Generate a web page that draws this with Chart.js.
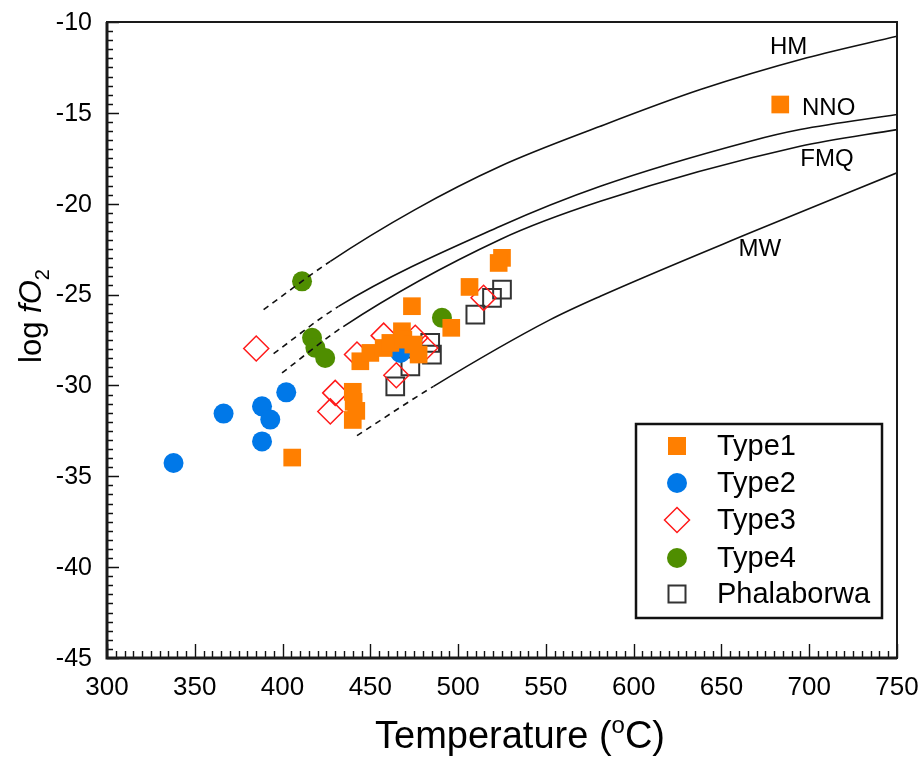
<!DOCTYPE html>
<html>
<head>
<meta charset="utf-8">
<script src="https://cdn.jsdelivr.net/npm/chart.js@4.4.0/dist/chart.umd.min.js"></script>
<style>
html, body { margin: 0; padding: 0; background: #fff; }
</style>
</head>
<body>
<canvas id="grafico" width="921" height="761"></canvas>
<script>
// sample groups: temperature (°C) and log fO2
const type1T   = [683.5, 405.5, 525.0, 523.1, 506.5, 473.7, 496.1, 440.0, 440.5, 442.0, 440.0, 444.3, 450.0, 457.6, 461.4, 468.0, 468.8, 474.5, 477.5];
const type1Log = [-14.54, -33.97, -22.98, -23.26, -24.58, -25.64, -26.83, -30.35, -30.9, -31.4, -31.9, -28.67, -28.21, -27.94, -27.66, -27.02, -27.48, -27.75, -28.30];

const type2T   = [337.9, 366.4, 388.3, 393.0, 388.3, 402.1, 467.1];
const type2Log = [-34.27, -31.55, -31.15, -31.88, -33.08, -30.38, -28.21];

const type3T   = [385.0, 430.0, 427.2, 442.4, 457.6, 475.6, 481.3, 464.8, 514.5];
const type3Log = [-27.97, -30.41, -31.43, -28.30, -27.26, -27.38, -27.94, -29.44, -25.18];

const type4T   = [411.1, 416.8, 418.7, 424.3, 490.8];
const type4Log = [-24.27, -27.38, -27.93, -28.49, -26.28];

const phalT    = [525.0, 519.3, 509.8, 484.1, 485.1, 472.8, 464.2];
const phalLog  = [-24.73, -25.18, -26.10, -27.66, -28.30, -28.95, -30.05];

// buffer curves (dashed below *DashTo)
const hmT    = [389.2, 427.2, 475.0, 524.0, 581.0, 638.0, 698.7, 750.0];
const hmLog  = [-25.83, -23.17, -20.35, -17.94, -15.74, -13.72, -11.97, -10.78];
const hmDashTo = 427.2;

const nnoT   = [394.9, 431.9, 524.0, 581.0, 666.4, 694.8, 750.0];
const nnoLog = [-28.25, -25.65, -21.24, -19.04, -16.56, -15.92, -15.09];
const nnoDashTo = 431.9;

const fmqT   = [399.7, 434.6, 524.0, 581.0, 694.8, 750.0];
const fmqLog = [-29.31, -26.76, -21.97, -19.87, -16.84, -15.92];
const fmqDashTo = 434.6;

const mwT    = [442.4, 486.0, 552.5, 581.0, 666.4, 750.0];
const mwLog  = [-32.76, -30.05, -26.38, -25.09, -21.60, -18.30];
const mwDashTo = 486.0;

const bufferNames = ['HM', 'NNO', 'FMQ', 'MW'];
const seriesNames = ['Type1', 'Type2', 'Type3', 'Type4', 'Phalaborwa'];

const xTicks = [300, 750, 50];   // min, max, step
const yTicks = [-45, -10, 5];

const pts = (xs, ys) => xs.map((v, i) => ({ x: v, y: ys[i] }));

const SANS = '"Liberation Sans", Arial, sans-serif';

function buffer(name, xs, ys, dashTo) {
    return {
        label: name,
        data: pts(xs, ys),
        showLine: true,
        pointRadius: 0,
        borderColor: '#111',
        borderWidth: 1.6,
        cubicInterpolationMode: 'monotone',
        segment: {
            borderDash: c => c.p1.parsed.x <= dashTo + 0.01 ? [6, 5] : undefined
        },
        order: 0
    };
}

const markers = [
    { pointStyle: 'rect',    radius: 12.5, fill: '#ff7f00', stroke: '#ff7f00', bw: 0 },
    { pointStyle: 'circle',  radius: 10,   fill: '#0078e8', stroke: '#0078e8', bw: 0 },
    { pointStyle: 'rectRot', radius: 12.5, fill: 'rgba(0,0,0,0)', stroke: '#ff1a1a', bw: 1.5 },
    { pointStyle: 'circle',  radius: 10,   fill: '#4f8e00', stroke: '#4f8e00', bw: 0 },
    { pointStyle: 'rect',    radius: 12.5, fill: 'rgba(0,0,0,0)', stroke: '#333', bw: 2 }
];
const seriesData = [
    pts(type1T, type1Log), pts(type2T, type2Log), pts(type3T, type3Log),
    pts(type4T, type4Log), pts(phalT, phalLog)
];

const scatterSets = seriesNames.map((n, i) => ({
    label: n,
    data: seriesData[i],
    pointStyle: markers[i].pointStyle,
    pointRadius: markers[i].radius,
    pointHoverRadius: markers[i].radius,
    backgroundColor: markers[i].fill,
    borderColor: markers[i].stroke,
    borderWidth: markers[i].bw,
    order: i + 1
}));

// text with mixed styles (italic, sub/superscript)
function richText(ctx, parts, x, y, align) {
    let w = 0;
    parts.forEach(p => { ctx.font = p.font; w += ctx.measureText(p.t).width; });
    let cx = align === 'center' ? x - w / 2 : x;
    ctx.textAlign = 'left';
    ctx.textBaseline = 'alphabetic';
    parts.forEach(p => {
        ctx.font = p.font;
        ctx.fillText(p.t, cx, y + (p.dy || 0));
        cx += ctx.measureText(p.t).width;
    });
}

const decor = {
    id: 'decor',
    afterDraw(chart) {
        const { ctx, chartArea: a, scales: { x, y } } = chart;
        ctx.save();

        // inward ticks
        ctx.strokeStyle = '#111';
        ctx.lineWidth = 1.4;
        ctx.beginPath();
        for (let i = 0; i <= 70; i++) {
            const py = Math.round(y.getPixelForValue(yTicks[0] + i * 0.5)) + 0.5;
            const len = i % 10 === 0 ? 12 : 6;
            ctx.moveTo(a.left, py); ctx.lineTo(a.left + len, py);
        }
        for (let i = 0; i <= 90; i++) {
            const px = Math.round(x.getPixelForValue(xTicks[0] + i * 5)) + 0.5;
            const len = i % 10 === 0 ? 14 : 7;
            ctx.moveTo(px, a.bottom); ctx.lineTo(px, a.bottom - len);
        }
        ctx.stroke();

        // frame
        ctx.lineWidth = 2;
        ctx.strokeStyle = '#1a1a1a';
        ctx.strokeRect(a.left, a.top, a.right - a.left, a.bottom - a.top);
        ctx.lineWidth = 3;
        ctx.beginPath();
        ctx.moveTo(a.left, a.top); ctx.lineTo(a.left, a.bottom); ctx.lineTo(a.right, a.bottom);
        ctx.stroke();

        // tick labels from the scales
        ctx.fillStyle = '#000';
        ctx.font = '25px ' + SANS;
        ctx.textAlign = 'right';
        ctx.textBaseline = 'middle';
        y.ticks.forEach(t => ctx.fillText(String(t.value), 92, y.getPixelForValue(t.value) + 1));
        ctx.font = '26px ' + SANS;
        ctx.textAlign = 'center';
        ctx.textBaseline = 'top';
        x.ticks.forEach(t => ctx.fillText(String(t.value), x.getPixelForValue(t.value), a.bottom + 17));

        // buffer labels
        const lab = [[688.3, -11.42], [711.1, -14.78], [710.1, -17.57], [671.8, -22.49]];
        ctx.font = '24px ' + SANS;
        ctx.textAlign = 'center';
        ctx.textBaseline = 'middle';
        bufferNames.forEach((n, i) => {
            ctx.fillText(n, x.getPixelForValue(lab[i][0]), y.getPixelForValue(lab[i][1]));
        });

        // x title
        const big = '38px ' + SANS, sup = '24px ' + SANS;
        richText(ctx, [
            { t: 'Temperature (', font: big },
            { t: 'o', font: sup, dy: -15 },
            { t: 'C)', font: big }
        ], 520, 748, 'center');

        // y title
        ctx.save();
        ctx.translate(41, 316);
        ctx.rotate(-Math.PI / 2);
        richText(ctx, [
            { t: 'log ', font: '31px ' + SANS },
            { t: 'fO', font: 'italic 31px ' + SANS },
            { t: '2', font: '20px ' + SANS, dy: 8 }
        ], 0, 0, 'center');
        ctx.restore();

        // legend
        const lx = 636, ly = 424, lw = 246, lh = 194;
        ctx.fillStyle = '#fff';
        ctx.fillRect(lx, ly, lw, lh);
        ctx.lineWidth = 2.5;
        ctx.strokeStyle = '#111';
        ctx.strokeRect(lx, ly, lw, lh);
        const rows = [446, 483, 520, 558, 594];
        seriesNames.forEach((n, i) => {
            const m = markers[i], cx = 677, cy = rows[i];
            ctx.beginPath();
            if (m.pointStyle === 'circle') {
                ctx.arc(cx, cy, 10, 0, Math.PI * 2);
            } else if (m.pointStyle === 'rectRot') {
                const r = 12.5;
                ctx.moveTo(cx, cy - r); ctx.lineTo(cx + r, cy); ctx.lineTo(cx, cy + r); ctx.lineTo(cx - r, cy); ctx.closePath();
            } else {
                const s = i === 0 ? 9 : 8.5;
                ctx.rect(cx - s, cy - s, 2 * s, 2 * s);
            }
            ctx.fillStyle = m.fill;
            ctx.fill();
            if (m.bw > 0) { ctx.lineWidth = m.bw; ctx.strokeStyle = m.stroke; ctx.stroke(); }
            ctx.fillStyle = '#000';
            ctx.font = '29px ' + SANS;
            ctx.textAlign = 'left';
            ctx.textBaseline = 'middle';
            ctx.fillText(n, 717, cy + 1);
        });

        ctx.restore();
    }
};

const chart = new Chart(document.getElementById('grafico'), {
    type: 'scatter',
    data: {
        datasets: [
            buffer('HM', hmT, hmLog, hmDashTo),
            buffer('NNO', nnoT, nnoLog, nnoDashTo),
            buffer('FMQ', fmqT, fmqLog, fmqDashTo),
            buffer('MW', mwT, mwLog, mwDashTo),
            ...scatterSets
        ]
    },
    options: {
        responsive: false,
        animation: false,
        layout: { padding: { top: 22, right: 24, left: 0, bottom: 0 } },
        plugins: { legend: { display: false }, tooltip: { enabled: false } },
        scales: {
            x: {
                type: 'linear',
                min: xTicks[0], max: xTicks[1],
                ticks: { stepSize: xTicks[2], display: false },
                grid: { display: false, drawTicks: false },
                border: { display: false },
                afterFit: s => { s.height = 103; }
            },
            y: {
                type: 'linear',
                min: yTicks[0], max: yTicks[1],
                ticks: { stepSize: yTicks[2], display: false },
                grid: { display: false, drawTicks: false },
                border: { display: false },
                afterFit: s => { s.width = 107; }
            }
        }
    },
    plugins: [decor]
});
</script>
</body>
</html>
